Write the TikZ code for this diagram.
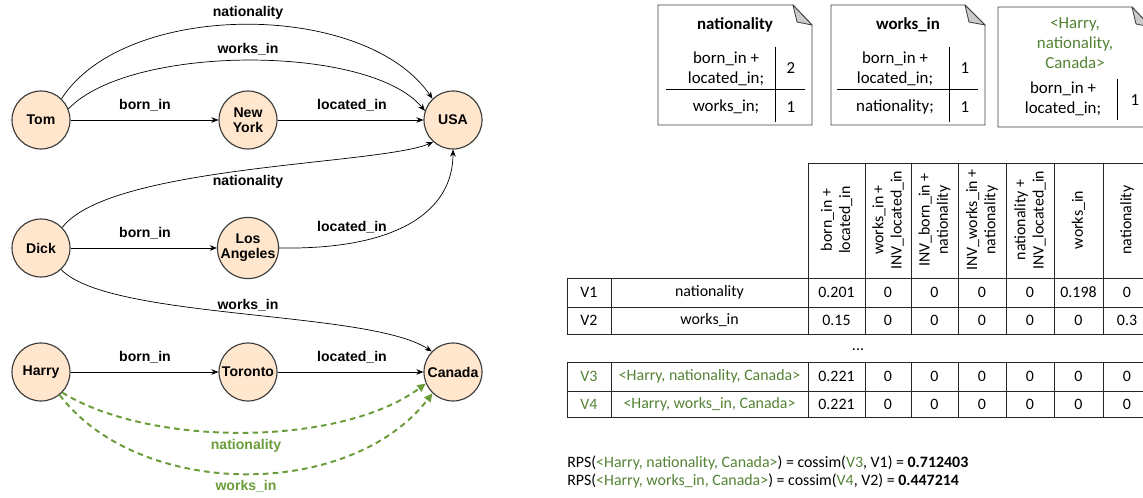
\documentclass[tikz,border=0pt]{standalone}
\usepackage{fontspec}
\setmainfont{Carlito}
\newfontfamily\graphfont{Liberation Sans}
\usetikzlibrary{arrows.meta}
\definecolor{entityfill}{HTML}{FFE6CC}
\definecolor{entityline}{HTML}{3A3A3A}
\definecolor{inferred}{HTML}{6A9C3A}
\definecolor{candidate}{HTML}{548235}
\tikzset{
  entity/.style={circle, draw=entityline, fill=entityfill, line width=0.8pt, minimum size=1.45cm, inner sep=0pt, align=center, font=\graphfont\bfseries\fontsize{10}{10.5}\selectfont},
  rel/.style={-{Stealth[length=5pt,width=4pt]}, line width=0.5pt},
  rellabel/.style={font=\graphfont\bfseries\fontsize{10}{12}\selectfont, inner sep=1pt},
  newrel/.style={-{Triangle[length=6pt,width=5.5pt]}, draw=inferred, line width=1.4pt, dash pattern=on 4pt off 3pt},
  newlabel/.style={rellabel, text=inferred},
  notebox/.style={draw=black!75, line width=0.6pt, fill=white},
  fold/.style={draw=black!75, fill=black!20, line width=0.6pt, line join=round},
  notesep/.style={draw=black, line width=0.6pt},
  notetext/.style={font=\fontsize{12}{14}\selectfont, align=center, inner sep=0pt},
  notetitle/.style={notetext, font=\bfseries\fontsize{12}{14}\selectfont},
  grid/.style={draw=black!85, line width=0.6pt},
  cell/.style={font=\fontsize{11.3}{13}\selectfont, inner sep=0pt},
  headcell/.style={cell, rotate=90, align=center}
}

\begin{document}
\begin{tikzpicture}[x=0.025cm,y=-0.025cm]
\useasboundingbox (0,0) rectangle (1143,498);
\clip (0,0) rectangle (1143,498);

%%%%% GRAPH %%%%%
\node[entity] (tom) at (41,120) {Tom};
\node[entity] (newyork) at (248,120) {New\\York};
\node[entity] (usa) at (453,120) {USA};
\node[entity] (dick) at (41,248) {Dick};
\node[entity] (losangeles) at (248,248) {Los\\Angeles};
\node[entity] (harry) at (41,372) {Harry};
\node[entity] (toronto) at (248,372) {Toronto};
\node[entity] (canada) at (453,372) {Canada};

\draw[rel] (tom.46) .. controls (125,0) and (365,0) .. (usa.134);
\draw[rel] (tom.22) .. controls (130,44) and (370,44) .. (usa.162);
\draw[rel] (tom) -- (newyork);
\draw[rel] (newyork) -- (usa);
\draw[rel] (dick.44) .. controls (110,165) and (380,165) .. (usa.228);
\draw[rel] (dick) -- (losangeles);
\draw[rel] (losangeles.east) .. controls (400,250) and (453,210) .. (usa.south);
\draw[rel] (dick.-47) .. controls (110,320) and (370,310) .. (canada.136);
\draw[rel] (harry) -- (toronto);
\draw[rel] (toronto) -- (canada);
\draw[newrel] (harry.-44) .. controls (150,447) and (340,447) .. (canada.203);
\draw[newrel] (harry.-51) .. controls (140,500) and (350,500) .. (canada.226);

\node[rellabel] (tomnat) at (248,13) {nationality};
\node[rellabel] (tomworks) at (248,49) {works\_in};
\node[rellabel] (tomborn) at (145,105) {born\_in};
\node[rellabel] (nyloc) at (352,105) {located\_in};
\node[rellabel] (dicknat) at (248,182) {nationality};
\node[rellabel] (dickborn) at (145,233) {born\_in};
\node[rellabel] (laloc) at (352,227) {located\_in};
\node[rellabel] (dickworks) at (248,305) {works\_in};
\node[rellabel] (harryborn) at (145,357) {born\_in};
\node[rellabel] (torloc) at (352,357) {located\_in};
\node[newlabel] (harrynat) at (246,446) {nationality};
\node[newlabel] (harryworks) at (246,486) {works\_in};

%%%%% NOTES %%%%%
\draw[notebox] (658,5) -- (793,5) -- (812,25) -- (812,125) -- (658,125) -- cycle;
\draw[fold] (793,5) -- (797,22) -- (812,25) -- cycle;
\node[notetitle] (nattitle) at (735,25) {nationality};
\node[notetext] (natpath1) at (726,69) {born\_in +\\located\_in;};
\node[notetext] (natcount1) at (791,68) {2};
\node[notetext] (natpath2) at (726,107) {works\_in;};
\node[notetext] (natcount2) at (791,107) {1};
\draw[notesep] (666,89) -- (805,89);
\draw[notesep] (775,47) -- (775,122);

\draw[notebox] (831,5) -- (965,5) -- (985,25) -- (985,125) -- (831,125) -- cycle;
\draw[fold] (965,5) -- (969,22) -- (985,25) -- cycle;
\node[notetitle] (workstitle) at (908,25) {works\_in};
\node[notetext] (workspath1) at (895,69) {born\_in +\\located\_in;};
\node[notetext] (workscount1) at (965,68) {1};
\node[notetext] (workspath2) at (895,107) {nationality;};
\node[notetext] (workscount2) at (965,107) {1};
\draw[notesep] (837,89) -- (978,89);
\draw[notesep] (949,47) -- (949,122);

\draw[notebox] (998,7) -- (1132,7) -- (1151,27) -- (1151,127) -- (998,127) -- cycle;
\draw[fold] (1132,7) -- (1136,24) -- (1151,27) -- cycle;
\node[notetext, text=candidate] (tripletitle) at (1075,43) {\textless Harry,\\nationality,\\Canada\textgreater};
\node[notetext] (triplepath) at (1063,99) {born\_in +\\located\_in;};
\node[notetext] (triplecount) at (1135,100) {1};
\draw[notesep] (1117,79) -- (1117,120);

%%%%% TABLE %%%%%
\draw[grid] (808,163) -- (1151,163);
\draw[grid] (567,278) -- (1151,278) (567,307) -- (1151,307) (567,334) -- (1151,334);
\draw[grid] (567,362) -- (1151,362) (567,391) -- (1151,391) (567,417) -- (1151,417);
\draw[grid] (567,278) -- (567,334) (611,278) -- (611,334) (567,362) -- (567,417) (611,362) -- (611,417);
\draw[grid] (808,163) -- (808,334) (865,163) -- (865,334) (911,163) -- (911,334) (958,163) -- (958,334)
  (1006,163) -- (1006,334) (1054,163) -- (1054,334) (1103,163) -- (1103,334);
\draw[grid] (808,362) -- (808,417) (865,362) -- (865,417) (911,362) -- (911,417) (958,362) -- (958,417)
  (1006,362) -- (1006,417) (1054,362) -- (1054,417) (1103,362) -- (1103,417);

\node[headcell] (head1) at (836.5,220) {born\_in +\\located\_in};
\node[headcell] (head2) at (888,220) {works\_in +\\INV\_located\_in};
\node[headcell] (head3) at (934.5,220) {INV\_born\_in +\\nationality};
\node[headcell] (head4) at (982,220) {INV\_works\_in +\\nationality};
\node[headcell] (head5) at (1030,220) {nationality +\\INV\_located\_in};
\node[headcell] (head6) at (1078.5,220) {works\_in};
\node[headcell] (head7) at (1127,220) {nationality};

\node[cell] (v1id) at (589,292.5) {V1};
\node[cell] (v1name) at (709.5,292.5) {nationality};
\node[cell] (v1a) at (836.5,292.5) {0.201};
\node[cell] (v1b) at (888,292.5) {0};
\node[cell] (v1c) at (934.5,292.5) {0};
\node[cell] (v1d) at (982,292.5) {0};
\node[cell] (v1e) at (1030,292.5) {0};
\node[cell] (v1f) at (1078.5,292.5) {0.198};
\node[cell] (v1g) at (1127,292.5) {0};

\node[cell] (v2id) at (589,320.5) {V2};
\node[cell] (v2name) at (709.5,320.5) {works\_in};
\node[cell] (v2a) at (836.5,320.5) {0.15};
\node[cell] (v2b) at (888,320.5) {0};
\node[cell] (v2c) at (934.5,320.5) {0};
\node[cell] (v2d) at (982,320.5) {0};
\node[cell] (v2e) at (1030,320.5) {0};
\node[cell] (v2f) at (1078.5,320.5) {0};
\node[cell] (v2g) at (1127,320.5) {0.3};

\node[cell] (dots) at (858,350) {...};

\node[cell, text=candidate] (v3id) at (589,376.5) {V3};
\node[cell, text=candidate] (v3name) at (709.5,376.5) {\textless Harry, nationality, Canada\textgreater};
\node[cell] (v3a) at (836.5,376.5) {0.221};
\node[cell] (v3b) at (888,376.5) {0};
\node[cell] (v3c) at (934.5,376.5) {0};
\node[cell] (v3d) at (982,376.5) {0};
\node[cell] (v3e) at (1030,376.5) {0};
\node[cell] (v3f) at (1078.5,376.5) {0};
\node[cell] (v3g) at (1127,376.5) {0};

\node[cell, text=candidate] (v4id) at (589,404) {V4};
\node[cell, text=candidate] (v4name) at (709.5,404) {\textless Harry, works\_in, Canada\textgreater};
\node[cell] (v4a) at (836.5,404) {0.221};
\node[cell] (v4b) at (888,404) {0};
\node[cell] (v4c) at (934.5,404) {0};
\node[cell] (v4d) at (982,404) {0};
\node[cell] (v4e) at (1030,404) {0};
\node[cell] (v4f) at (1078.5,404) {0};
\node[cell] (v4g) at (1127,404) {0};

%%%%% SCORES %%%%%
\node[cell, anchor=west] (rps1) at (567,463) {RPS(\textcolor{candidate}{\textless Harry, nationality, Canada\textgreater}) = cossim(\textcolor{candidate}{V3}, V1) = \textbf{0.712403}};
\node[cell, anchor=west] (rps2) at (567,481) {RPS(\textcolor{candidate}{\textless Harry, works\_in, Canada\textgreater}) = cossim(\textcolor{candidate}{V4}, V2) = \textbf{0.447214}};
\end{tikzpicture}
\end{document}
